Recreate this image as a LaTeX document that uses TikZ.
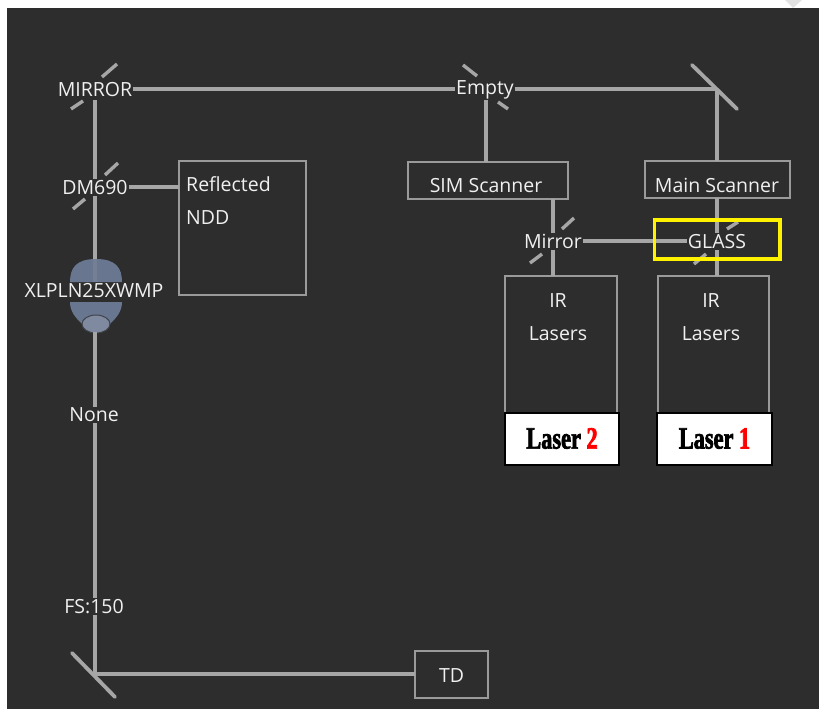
\documentclass[tikz,border=0pt]{standalone}
\usepackage{fontspec}
\setmainfont{Open Sans}
\newfontfamily\poster[UprightFont={* Bold},FakeStretch=0.72,FakeBold=2.2]{Liberation Serif}
\definecolor{panel}{HTML}{2D2D2D}
\definecolor{beam}{HTML}{A6A6A6}
\definecolor{boxline}{HTML}{9A9A9A}
\definecolor{lens}{HTML}{68768F}
\definecolor{labeltext}{HTML}{F0F0F0}
\definecolor{markgray}{HTML}{E2E2E2}
\tikzset{
  beamline/.style={draw=beam,line width=3.6pt},
  tick/.style={draw=beam,line width=3.4pt},
  bigmirror/.style={draw=beam,line width=3.8pt,line cap=round},
  lab/.style={text=labeltext,font=\fontsize{19.5}{22}\selectfont,inner sep=1pt,anchor=center,yshift=-0.8pt},
  unit/.style={draw=boxline,line width=1.5pt,rectangle,inner sep=0pt,outer sep=0pt},
  tag/.style={draw=black,fill=white,line width=2pt,inner sep=0pt,outer sep=0pt,rectangle,
    font=\poster\fontsize{31}{34}\selectfont,text=black},
}
\newcommand{\boxat}[5]{\node[unit,minimum width=#4*1pt-#2*1pt,minimum height=#5*1pt-#3*1pt,anchor=north west] (#1) at (#2,#3) {};}
\begin{document}
\begin{tikzpicture}[x=1pt,y=-1pt]
\useasboundingbox (0,0) rectangle (819,709);
\fill[white] (0,0) rectangle (819,709);
\fill[panel] (7,8) rectangle (819,709);
\fill[markgray] (785,0) -- (802,0) -- (793,8) -- cycle;
% objective lens body
\fill[lens] (70,282) .. controls (70,268) and (76,259) .. (96,259) .. controls (116,259) and (122,268) .. (122,282) -- cycle;
\fill[lens] (70,302) -- (122,302) .. controls (122,312) and (116,318) .. (110,324) -- (82,324) .. controls (76,318) and (70,312) .. (70,302) -- cycle;
\fill[lens!85!white,draw=panel!70!lens,line width=1pt] (96,324) ellipse (14 and 9);
% unit boxes
\boxat{refl}{179}{161}{306}{295}
\boxat{sim}{408}{162}{568}{199}
\boxat{mainsc}{645}{161}{790}{198}
\boxat{irtwo}{505}{276}{617}{414}
\boxat{irone}{658}{276}{769}{414}
\boxat{td}{415}{651}{488}{698}
% labels
\node[lab] (mirror) at (95,89) {MIRROR};
\node[lab] (dm) at (95,187) {DM690};
\node[lab] (xl) at (94,290) {XLPLN25XWMP};
\node[lab] (none) at (94,414) {None};
\node[lab] (fs) at (94,606) {FS:150};
\node[lab] (empty) at (485,89) {Empty};
\node[lab] (mirrortwo) at (553,241) {Mirror};
\node[lab] (glass) at (717,241) {GLASS};
\node[lab,anchor=west] at (185,183) {Reflected};
\node[lab,anchor=west] at (185,217) {NDD};
\node[lab] at (486,185) {SIM Scanner};
\node[lab] at (717,185) {Main Scanner};
\node[lab] at (558,300) {IR};
\node[lab] at (558,333) {Lasers};
\node[lab] at (711,300) {IR};
\node[lab] at (711,333) {Lasers};
\node[lab] at (451.5,675) {TD};
% junctions
\coordinate (turnA) at (717,89);
\coordinate (turnB) at (95,674);
% beams
\draw[beamline] (mirror.east |- 0,89) -- (empty.west |- 0,89);
\draw[beamline] (empty.east |- 0,89) -- (turnA);
\draw[beamline] (turnA) -- (turnA |- mainsc.north);
\draw[beamline] (mainsc.south -| glass) -- (glass.north);
\draw[beamline] (glass.south) -- (glass |- irone.north);
\draw[beamline] (486,100) -- (486,162);
\draw[beamline] (mirrortwo |- sim.south) -- (mirrortwo.north);
\draw[beamline] (mirrortwo.south) -- (mirrortwo |- irtwo.north);
\draw[beamline] (mirrortwo.east |- 0,241) -- (glass.west |- 0,241);
\draw[beamline] (95,100) -- (dm.north -| 95,100);
\draw[beamline] (dm.east |- 0,187) -- (refl.west |- 0,187);
\draw[beamline] (dm.south -| 95,0) -- (95,259);
\draw[beamline,opacity=.2] (95,259) -- (95,282);
\draw[beamline] (95,332) -- (none.north -| 95,332);
\draw[beamline] (none.south -| 95,0) -- (fs.north -| 95,0);
\draw[beamline] (fs.south -| 95,0) -- (turnB);
\draw[beamline] (turnB) -- (turnB -| td.west);
% mirrors
\draw[bigmirror] (692,65) -- (737,109);
\draw[bigmirror] (72,653) -- (115,697);
\draw[tick] (117,64) -- (102,77);
\draw[tick] (83,101) -- (71,109);
\draw[tick] (118,163) -- (105,175);
\draw[tick] (85,199) -- (73,209);
\draw[tick] (463,65) -- (477,76);
\draw[tick] (498,102) -- (508,109);
\draw[tick] (574,218) -- (562,229);
\draw[tick] (542,254) -- (530,263);
\draw[tick] (738,222) -- (727,229);
\draw[tick] (706,254) -- (694,264);
% yellow highlight
\draw[yellow,line width=3.4pt] (654.5,220) rectangle (780,259);
% laser tags
\node[tag,minimum width=114pt,minimum height=52pt,anchor=north west] (tagtwo) at (505,412.5) {Laser \textcolor{red}{2}};
\node[tag,minimum width=115pt,minimum height=52pt,anchor=north west] (tagone) at (657,412.5) {Laser \textcolor{red}{1}};
\end{tikzpicture}
\end{document}
